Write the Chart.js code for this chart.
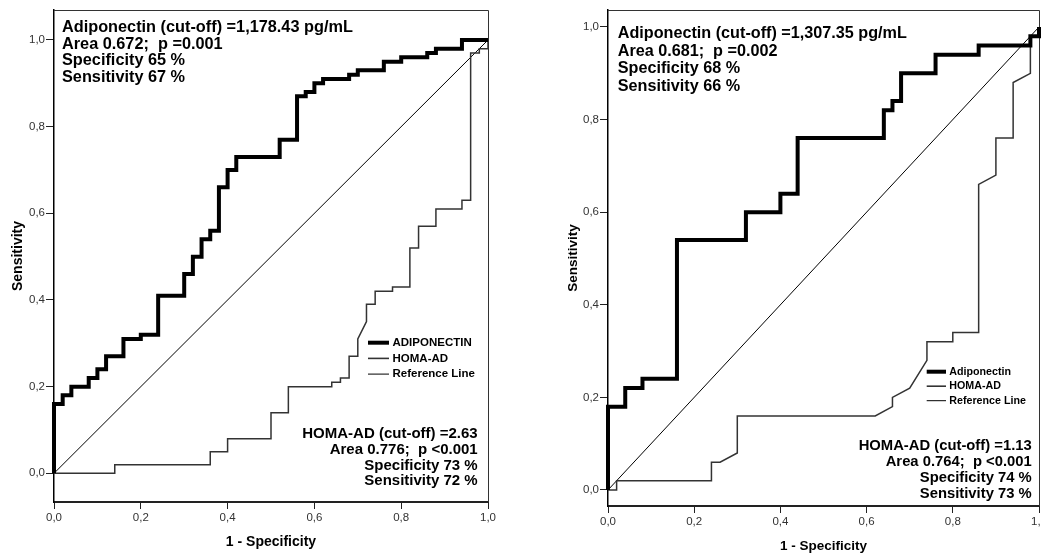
<!DOCTYPE html>
<html><head><meta charset="utf-8">
<script src="https://cdn.jsdelivr.net/npm/chart.js@4/dist/chart.umd.min.js"></script>
<style>
html,body{margin:0;padding:0;background:#fff;}
#wrap{position:relative;width:1041px;height:557px;overflow:hidden;background:#fff;}
canvas{position:absolute;top:0;}
#c1{left:0;} #c2{left:520px;}
</style></head><body>
<div id="wrap"><canvas id="c1" width="520" height="557"></canvas><canvas id="c2" width="521" height="557"></canvas></div>
<script>
// ---------- data ----------
const xTickValues = [0, 0.2, 0.4, 0.6, 0.8, 1.0];
const xTickLabels = ['0,0', '0,2', '0,4', '0,6', '0,8', '1,0'];
const yTickValues = [0, 0.2, 0.4, 0.6, 0.8, 1.0];
const yTickLabels = ['0,0', '0,2', '0,4', '0,6', '0,8', '1,0'];

// Left panel: ADIPONECTIN ROC (1 - specificity, sensitivity)
const leftAdipoFpr = [0,0,0.02,0.02,0.04,0.04,0.08,0.08,0.10,0.10,0.12,0.12,0.16,0.16,0.20,0.20,0.24,0.24,0.30,0.30,0.32,0.32,0.34,0.34,0.36,0.36,0.38,0.38,0.40,0.40,0.42,0.42,0.52,0.52,0.56,0.56,0.58,0.58,0.60,0.60,0.62,0.62,0.68,0.68,0.70,0.70,0.76,0.76,0.80,0.80,0.86,0.86,0.88,0.88,0.94,0.94,1.0];
const leftAdipoTpr = [0,0.16,0.16,0.18,0.18,0.20,0.20,0.22,0.22,0.24,0.24,0.27,0.27,0.31,0.31,0.32,0.32,0.41,0.41,0.46,0.46,0.50,0.50,0.54,0.54,0.56,0.56,0.66,0.66,0.70,0.70,0.73,0.73,0.77,0.77,0.87,0.87,0.88,0.88,0.90,0.90,0.91,0.91,0.92,0.92,0.93,0.93,0.95,0.95,0.96,0.96,0.97,0.97,0.98,0.98,1.0,1.0];
// Left panel: HOMA-AD ROC
const leftHomaFpr = [0,0.14,0.14,0.36,0.36,0.40,0.40,0.50,0.50,0.54,0.54,0.64,0.64,0.66,0.66,0.68,0.68,0.70,0.70,0.72,0.72,0.74,0.74,0.78,0.78,0.82,0.82,0.84,0.84,0.88,0.88,0.94,0.94,0.96,0.96,0.98,0.98,1.0,1.0];
const leftHomaTpr = [0,0,0.02,0.02,0.05,0.05,0.08,0.08,0.14,0.14,0.20,0.20,0.21,0.21,0.22,0.22,0.27,0.27,0.31,0.35,0.39,0.39,0.42,0.42,0.43,0.43,0.52,0.52,0.57,0.57,0.61,0.61,0.63,0.63,0.97,0.97,0.98,0.98,1.0];

// Right panel: Adiponectin ROC
const rightAdipoFpr = [0,0,0.04,0.04,0.08,0.08,0.16,0.16,0.32,0.32,0.40,0.40,0.44,0.44,0.64,0.64,0.66,0.66,0.68,0.68,0.76,0.76,0.86,0.86,0.98,0.98,1.0,1.0];
const rightAdipoTpr = [0,0.18,0.18,0.22,0.22,0.24,0.24,0.54,0.54,0.60,0.60,0.64,0.64,0.76,0.76,0.82,0.82,0.84,0.84,0.90,0.90,0.94,0.94,0.96,0.96,0.98,0.98,1.0];
// Right panel: HOMA-AD ROC
const rightHomaFpr = [0,0.02,0.02,0.24,0.24,0.26,0.30,0.30,0.62,0.66,0.66,0.70,0.74,0.74,0.80,0.80,0.86,0.86,0.90,0.90,0.94,0.94,0.98,0.98,1.0,1.0];
const rightHomaTpr = [0,0,0.02,0.02,0.06,0.06,0.08,0.16,0.16,0.18,0.20,0.22,0.28,0.32,0.32,0.34,0.34,0.66,0.68,0.76,0.76,0.88,0.90,0.98,0.98,1.0];

// Reference line
const refFpr = [0, 1];
const refTpr = [0, 1];

const leftLegendLabels = ['ADIPONECTIN', 'HOMA-AD', 'Reference Line'];
const rightLegendLabels = ['Adiponectin', 'HOMA-AD', 'Reference Line'];

const leftTopNote = ['Adiponectin (cut-off) =1,178.43 pg/mL', 'Area 0.672;  p =0.001', 'Specificity 65 %', 'Sensitivity 67 %'];
const leftBottomNote = ['HOMA-AD (cut-off) =2.63', 'Area 0.776;  p <0.001', 'Specificity 73 %', 'Sensitivity 72 %'];
const rightTopNote = ['Adiponectin (cut-off) =1,307.35 pg/mL', 'Area 0.681;  p =0.002', 'Specificity 68 %', 'Sensitivity 66 %'];
const rightBottomNote = ['HOMA-AD (cut-off) =1.13', 'Area 0.764;  p <0.001', 'Specificity 74 %', 'Sensitivity 73 %'];

// ---------- rendering ----------
const FONT = '"Liberation Sans", Arial, Helvetica, sans-serif';
function pts(xs, ys) { return xs.map((x, i) => ({ x: x, y: ys[i] })); }

const boxPlugin = {
  id: 'box',
  beforeDatasetsDraw(chart) {
    const { ctx, chartArea: a } = chart;
    ctx.save();
    ctx.strokeStyle = '#333';
    ctx.lineWidth = 1;
    ctx.beginPath();
    ctx.moveTo(a.left, a.top + 0.5);
    ctx.lineTo(a.right + 0.5, a.top + 0.5);
    ctx.lineTo(a.right + 0.5, a.bottom);
    ctx.stroke();
    ctx.restore();
  }
};

const notesPlugin = {
  id: 'notes',
  afterDraw(chart, args, opts) {
    const ctx = chart.ctx;
    ctx.save();
    ctx.fillStyle = '#000';
    (opts.blocks || []).forEach(b => {
      ctx.font = 'bold ' + b.size + 'px ' + FONT;
      ctx.textAlign = b.align;
      ctx.textBaseline = 'alphabetic';
      b.lines.forEach((t, i) => ctx.fillText(t, b.x, b.y + i * b.lh));
    });
    const L = opts.legend;
    if (L) {
      ctx.font = 'bold ' + L.size + 'px ' + FONT;
      ctx.textAlign = 'left';
      ctx.textBaseline = 'middle';
      chart.data.datasets.forEach((ds, i) => {
        const y = L.y + i * L.lh;
        ctx.strokeStyle = ds.borderColor;
        ctx.lineWidth = ds.legendWidth;
        ctx.beginPath();
        ctx.moveTo(L.x0, y);
        ctx.lineTo(L.x1, y);
        ctx.stroke();
        ctx.fillStyle = '#000';
        ctx.fillText(ds.label, L.tx, y);
      });
    }
    ctx.restore();
  }
};

function makeChart(id, cfg) {
  const datasets = [
    { label: cfg.labels[0], data: pts(cfg.adipo[0], cfg.adipo[1]), borderColor: '#000', borderWidth: 4, legendWidth: 4 },
    { label: cfg.labels[1], data: pts(cfg.homa[0], cfg.homa[1]), borderColor: '#333', borderWidth: 1.5, legendWidth: 1.6 },
    { label: cfg.labels[2], data: pts(refFpr, refTpr), borderColor: '#000', borderWidth: 1, legendWidth: 1 }
  ].map(d => Object.assign(d, { pointRadius: 0, fill: false, tension: 0, clip: false, borderJoinStyle: 'miter', borderCapStyle: 'butt', showLine: true }));

  return new Chart(document.getElementById(id), {
    type: 'scatter',
    data: { datasets: datasets },
    plugins: [boxPlugin, notesPlugin],
    options: {
      responsive: false,
      animation: false,
      events: [],
      layout: { padding: { left: 0, top: cfg.top, right: cfg.right, bottom: 0 } },
      plugins: {
        legend: { display: false },
        tooltip: { enabled: false },
        notes: { blocks: cfg.blocks, legend: cfg.legend }
      },
      scales: {
        x: {
          type: 'linear', min: 0, max: 1,
          afterBuildTicks: s => { s.ticks = xTickValues.map(v => ({ value: v })); },
          afterFit: s => { s.height = cfg.xAxisH; s.paddingLeft = 0; s.paddingRight = 0; },
          grid: { display: true, drawOnChartArea: false, drawTicks: true, tickLength: 7, color: '#222', lineWidth: 1 },
          border: { display: true, color: '#222', width: 2 },
          ticks: { padding: 2, color: '#333', font: { family: FONT, size: 11.5 }, maxRotation: 0, autoSkip: false,
                   callback: (v, i) => xTickLabels[i] },
          title: { display: true, text: '1 - Specificity', color: '#000', font: { family: FONT, size: cfg.titleSize, weight: 'bold' },
                   padding: { top: 0, bottom: cfg.xTitlePad } }
        },
        y: {
          type: 'linear', min: cfg.yMin, max: cfg.yMax,
          afterBuildTicks: s => { s.ticks = yTickValues.map(v => ({ value: v })); },
          afterFit: s => { s.width = cfg.yAxisW; s.paddingTop = 0; s.paddingBottom = 0; },
          grid: { display: true, drawOnChartArea: false, drawTicks: true, tickLength: 8, color: '#222', lineWidth: 1 },
          border: { display: true, color: '#000', width: 1.5 },
          ticks: { padding: 1, color: '#333', font: { family: FONT, size: 11.5 }, autoSkip: false,
                   callback: (v, i) => yTickLabels[i] },
          title: { display: true, text: 'Sensitivity', color: '#000', font: { family: FONT, size: cfg.titleSize, weight: 'bold' },
                   padding: { top: cfg.yTitlePad, bottom: 0 } }
        }
      }
    }
  });
}

makeChart('c1', {
  labels: leftLegendLabels,
  adipo: [leftAdipoFpr, leftAdipoTpr],
  homa: [leftHomaFpr, leftHomaTpr],
  top: 10, right: 32, xAxisH: 55, yAxisW: 54,
  yMin: -0.0662, yMax: 1.0692,
  titleSize: 14, xTitlePad: 6.9, yTitlePad: 9.9,
  blocks: [
    { x: 62, y: 32.3, lh: 16.5, size: 16.3, align: 'left', lines: leftTopNote },
    { x: 477.7, y: 438.3, lh: 15.6, size: 15, align: 'right', lines: leftBottomNote }
  ],
  legend: { x0: 368, x1: 389, tx: 392.5, y: 342.7, lh: 15.7, size: 11.5 }
});

makeChart('c2', {
  labels: rightLegendLabels,
  adipo: [rightAdipoFpr, rightAdipoTpr],
  homa: [rightHomaFpr, rightHomaTpr],
  top: 10, right: 2, xAxisH: 51, yAxisW: 88,
  yMin: -0.0346, yMax: 1.0367,
  titleSize: 13.5, xTitlePad: 2.2, yTitlePad: 45.2,
  blocks: [
    { x: 97.7, y: 38.3, lh: 17.5, size: 16.2, align: 'left', lines: rightTopNote },
    { x: 511.7, y: 450, lh: 16.1, size: 14.8, align: 'right', lines: rightBottomNote }
  ],
  legend: { x0: 406.7, x1: 426, tx: 429.3, y: 371.7, lh: 14.5, size: 10.7 }
});
</script>
</body></html>
